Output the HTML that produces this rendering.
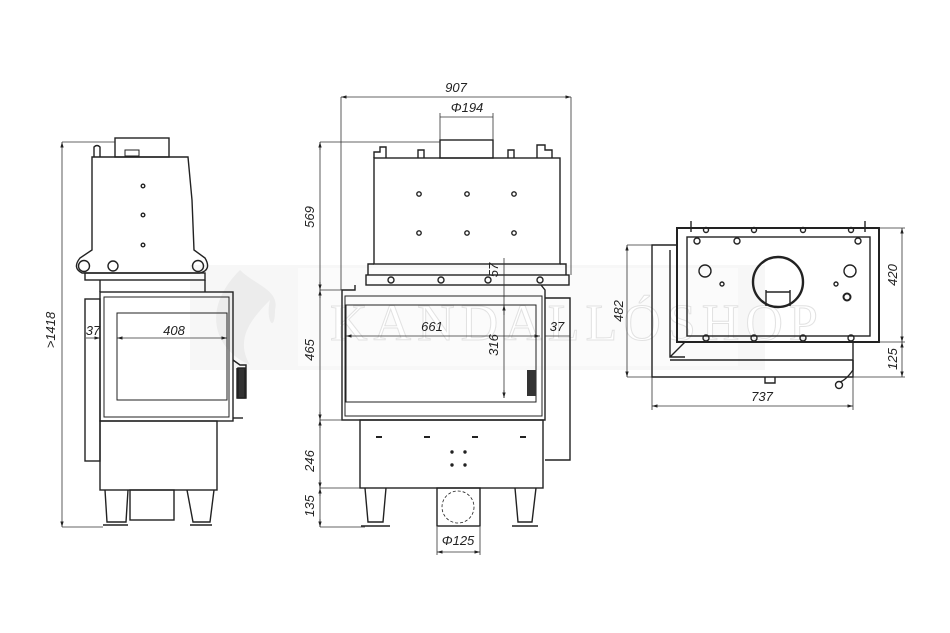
<!DOCTYPE html>
<html><head><meta charset="utf-8"><style>
html,body{margin:0;padding:0;background:#fff}
svg{display:block}
text{font-family:"Liberation Sans",sans-serif;font-style:italic;font-size:13px;fill:#222}
</style></head><body>
<svg width="950" height="633" viewBox="0 0 950 633" xmlns="http://www.w3.org/2000/svg">
<defs>
<marker id="a" viewBox="0 0 10 10" refX="10" refY="5" markerWidth="7" markerHeight="7" orient="auto-start-reverse"><path d="M0,2 L10,5 L0,8 z" fill="#222"/></marker>
</defs>
<rect width="950" height="633" fill="#fff"/>
<!-- watermark band -->
<rect x="190" y="265" width="575" height="105" fill="#000" opacity="0.03"/>
<rect x="298" y="268" width="440" height="98" fill="#fff" opacity="0.5"/>
<text x="330" y="340" style="font-family:'Liberation Serif',serif;font-style:normal;font-size:52px;fill:#fff;stroke:#e2e2e2;stroke-width:1;letter-spacing:6px">KANDALLÓSHOP</text>
<path d="M240,270 C200,310 215,350 250,365 C235,340 250,320 270,300 C265,320 275,335 275,310 C280,290 255,285 240,270z" fill="#ececec"/>

<g fill="none" stroke="#222" stroke-width="1.4">
<!-- ===== LEFT (side) VIEW ===== -->
<path d="M94,157 L94,147 Q97,144 100,147 L100,157"/>
<rect x="115" y="138" width="54" height="19"/>
<rect x="125" y="150" width="14" height="6" stroke-width="1"/>
<path d="M92,157 L188,157 L192,200 L194,250 L205,258 Q212,270 200,273 L82,273 Q72,268 80,258 L92,250 Z"/>
<circle cx="84" cy="266" r="5.5"/><circle cx="198" cy="266" r="5.5"/><circle cx="113" cy="266" r="5"/>
<circle cx="143" cy="186" r="1.8"/><circle cx="143" cy="215" r="1.8"/><circle cx="143" cy="245" r="1.8"/>
<rect x="85" y="273" width="120" height="7"/>
<path d="M100,280 L100,292 M205,280 L205,292"/>
<rect x="100" y="292" width="133" height="129"/>
<rect x="104" y="297" width="125" height="120" stroke-width="1"/>
<rect x="117" y="313" width="110" height="87" stroke-width="1"/>
<rect x="85" y="299" width="15" height="162"/>
<path d="M233,360 L240,365 L246,365 L246,398 L237,398 L237,368"/>
<rect x="238" y="368" width="7" height="30" fill="#333"/>
<path d="M233,418 L243,418"/>
<rect x="100" y="421" width="117" height="69"/>
<path d="M105,490 L107,522 L126,522 L128,490"/>
<path d="M103,525 L128,525 M190,525 L212,525"/>
<path d="M187,490 L193,522 L210,522 L214,490"/>
<rect x="130" y="490" width="44" height="30"/>

<!-- ===== MIDDLE (front) VIEW ===== -->
<rect x="440" y="140" width="53" height="18"/>
<path d="M374,158 L374,152 L380,152 L380,147 L386,147 L386,158 M418,158 L418,150 L424,150 L424,158 M508,158 L508,150 L514,150 L514,158 M537,158 L537,145 L545,145 L545,150 L552,150 L552,158"/>
<rect x="374" y="158" width="186" height="106"/>
<path d="M374,264 L368,264 L368,275 M560,264 L566,264 L566,275"/>
<rect x="366" y="275" width="203" height="10"/>
<circle cx="391" cy="280" r="3"/><circle cx="441" cy="280" r="3"/><circle cx="488" cy="280" r="3"/><circle cx="540" cy="280" r="3"/>
<circle cx="419" cy="194" r="2.2"/><circle cx="467" cy="194" r="2.2"/><circle cx="514" cy="194" r="2.2"/>
<circle cx="419" cy="233" r="2.2"/><circle cx="467" cy="233" r="2.2"/><circle cx="514" cy="233" r="2.2"/>
<path d="M355,285 L355,290 L342,290 L342,420 L545,420 L545,290 L541,285"/>
<rect x="345" y="296" width="197" height="120" stroke-width="1"/>
<rect x="346" y="305" width="190" height="97" stroke-width="1"/>
<path d="M545,298 L570,298 L570,460 L545,460"/>
<rect x="527" y="370" width="9" height="26" fill="#333" stroke="none"/>
<rect x="360" y="420" width="183" height="68"/>
<path d="M376,437 L382,437 M424,437 L430,437 M472,437 L478,437 M520,437 L526,437" stroke-width="2"/>
<circle cx="452" cy="452" r="1" fill="#222"/><circle cx="465" cy="452" r="1" fill="#222"/><circle cx="452" cy="465" r="1" fill="#222"/><circle cx="465" cy="465" r="1" fill="#222"/>
<path d="M365,488 L368,522 L383,522 L386,488 M515,488 L518,522 L532,522 L536,488"/>
<path d="M361,526 L390,526 M512,526 L538,526"/>
<rect x="437" y="488" width="43" height="38"/>
<circle cx="458" cy="507" r="16" stroke-width="0.8" stroke-dasharray="3,2"/>

<!-- ===== RIGHT (top) VIEW ===== -->
<rect x="677" y="228" width="202" height="114" stroke-width="2"/>
<rect x="687" y="237" width="183" height="99"/>
<path d="M691,221 L691,232 M865,221 L865,232"/>
<path d="M676,245 L652,245 L652,377 L853,377 L853,342"/>
<path d="M670,250 L670,357 L685,357 M685,342 L670,357"/>
<path d="M670,360 L853,360"/>
<circle cx="778" cy="282" r="25" stroke-width="2.4"/>
<path d="M766,290 L766,306 M790,290 L790,306 M766,292 L790,292"/>
<circle cx="705" cy="271" r="6"/><circle cx="850" cy="271" r="6"/>
<circle cx="847" cy="297" r="3.5" stroke-width="2"/>
<circle cx="722" cy="284" r="2"/><circle cx="836" cy="284" r="2"/>
<circle cx="737" cy="241" r="3"/><circle cx="697" cy="241" r="3"/><circle cx="858" cy="241" r="3"/>
<circle cx="706" cy="338" r="3"/><circle cx="754" cy="338" r="3"/><circle cx="803" cy="338" r="3"/><circle cx="851" cy="338" r="3"/>
<circle cx="706" cy="230" r="2.5"/><circle cx="754" cy="230" r="2.5"/><circle cx="803" cy="230" r="2.5"/><circle cx="851" cy="230" r="2.5"/>
<path d="M765,377 L765,383 L775,383 L775,377"/>
<path d="M853,360 L853,370 Q846,380 840,382"/><circle cx="839" cy="385" r="3.5"/>
</g>

<!-- ===== DIMENSIONS ===== -->
<g fill="none" stroke="#333" stroke-width="0.8">
<line x1="62" y1="142" x2="62" y2="527" marker-start="url(#a)" marker-end="url(#a)"/>
<path d="M62,142 L115,142 M62,527 L103,527"/>
<line x1="86" y1="338" x2="100" y2="338" marker-end="url(#a)"/>
<line x1="117" y1="338" x2="227" y2="338" marker-start="url(#a)" marker-end="url(#a)"/>

<line x1="341" y1="97" x2="571" y2="97" marker-start="url(#a)" marker-end="url(#a)"/>
<path d="M341,97 L341,290 M571,97 L571,275"/>
<line x1="440" y1="117" x2="493" y2="117"/><path d="M440,113 L440,140 M493,113 L493,140"/>
<line x1="320" y1="142" x2="320" y2="527"/>
<path d="M320,142 L440,142 M320,290 L342,290 M320,420 L360,420 M320,488 L360,488 M320,527 L365,527"/>
<line x1="320" y1="150" x2="320" y2="142" marker-end="url(#a)"/>
<line x1="320" y1="282" x2="320" y2="290" marker-end="url(#a)"/>
<line x1="320" y1="298" x2="320" y2="290" marker-end="url(#a)"/>
<line x1="320" y1="412" x2="320" y2="420" marker-end="url(#a)"/>
<line x1="320" y1="428" x2="320" y2="420" marker-end="url(#a)"/>
<line x1="320" y1="480" x2="320" y2="488" marker-end="url(#a)"/>
<line x1="320" y1="496" x2="320" y2="488" marker-end="url(#a)"/>
<line x1="320" y1="519" x2="320" y2="527" marker-end="url(#a)"/>
<line x1="346" y1="336" x2="540" y2="336" marker-start="url(#a)" marker-end="url(#a)"/>
<line x1="504" y1="258" x2="504" y2="398"/>
<line x1="504" y1="305" x2="504" y2="315" marker-start="url(#a)"/>
<line x1="504" y1="390" x2="504" y2="398" marker-end="url(#a)"/>
<line x1="545" y1="336" x2="570" y2="336"/>
<line x1="437" y1="552" x2="480" y2="552" marker-start="url(#a)" marker-end="url(#a)"/>
<path d="M437,527 L437,555 M480,527 L480,555"/>

<line x1="627" y1="245" x2="627" y2="377" marker-start="url(#a)" marker-end="url(#a)"/>
<path d="M627,245 L652,245 M627,377 L652,377"/>
<line x1="902" y1="228" x2="902" y2="342" marker-start="url(#a)" marker-end="url(#a)"/>
<line x1="902" y1="342" x2="902" y2="377" marker-start="url(#a)" marker-end="url(#a)"/>
<path d="M879,228 L905,228 M879,342 L905,342 M853,377 L905,377"/>
<line x1="652" y1="406" x2="853" y2="406" marker-start="url(#a)" marker-end="url(#a)"/>
<path d="M652,377 L652,410 M853,377 L853,410"/>
</g>

<g>
<text x="55" y="330" text-anchor="middle" transform="rotate(-90 55 330)">&gt;1418</text>
<text x="93" y="335" text-anchor="middle">37</text>
<text x="174" y="335" text-anchor="middle">408</text>
<text x="456" y="92" text-anchor="middle">907</text>
<text x="467" y="112" text-anchor="middle">Φ194</text>
<text x="314" y="217" text-anchor="middle" transform="rotate(-90 314 217)">569</text>
<text x="314" y="350" text-anchor="middle" transform="rotate(-90 314 350)">465</text>
<text x="314" y="461" text-anchor="middle" transform="rotate(-90 314 461)">246</text>
<text x="314" y="506" text-anchor="middle" transform="rotate(-90 314 506)">135</text>
<text x="432" y="331" text-anchor="middle">661</text>
<text x="498" y="270" text-anchor="middle" transform="rotate(-90 498 270)">57</text>
<text x="498" y="345" text-anchor="middle" transform="rotate(-90 498 345)">316</text>
<text x="557" y="331" text-anchor="middle">37</text>
<text x="458" y="545" text-anchor="middle">Φ125</text>
<text x="623" y="311" text-anchor="middle" transform="rotate(-90 623 311)">482</text>
<text x="897" y="275" text-anchor="middle" transform="rotate(-90 897 275)">420</text>
<text x="897" y="359" text-anchor="middle" transform="rotate(-90 897 359)">125</text>
<text x="762" y="401" text-anchor="middle">737</text>
</g>
</svg>
</body></html>
